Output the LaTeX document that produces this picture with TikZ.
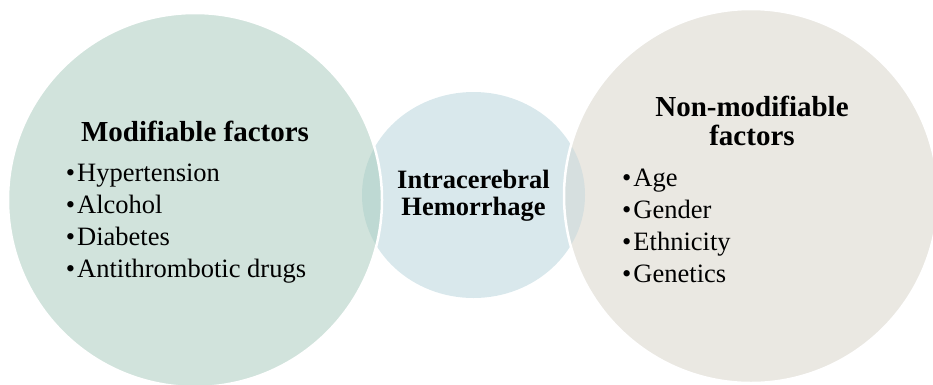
\documentclass[tikz,border=0pt]{standalone}
\usepackage{fontspec}
\setmainfont{Liberation Serif}
\usetikzlibrary{shapes.geometric}
\definecolor{modfill}{RGB}{209,227,220}
\definecolor{hemfill}{RGB}{217,232,236}
\definecolor{nonfill}{RGB}{234,232,226}
\definecolor{modover}{RGB}{190,217,211}
\definecolor{nonover}{RGB}{214,223,223}
\tikzset{
  venn/.style={circle, inner sep=0pt, minimum size=374pt, fill=#1},
  rim/.style={draw=white, line width=2.5pt},
  head/.style={font=\fontsize{29}{32}\selectfont\bfseries, inner sep=0pt, anchor=base},
  midhead/.style={font=\fontsize{26.5}{27}\selectfont\bfseries, inner sep=0pt, anchor=base},
  item/.style={font=\fontsize{26.5}{32}\selectfont, inner sep=0pt, anchor=base west},
}
\begin{document}
\begin{tikzpicture}[x=1pt, y=-1pt]
\useasboundingbox (0,0) rectangle (933,384);
% circles
\node[ellipse, inner sep=0pt, minimum width=223pt, minimum height=206pt, fill=hemfill] (hem) at (473.5,195) {};
\node[venn=modfill] (modc) at (195,200) {};
\node[venn=nonfill] (nonc) at (751,196) {};
\begin{scope}
\clip (modc.center) circle[radius=187pt];
\fill[modover] (hem.center) ellipse[x radius=111.5pt, y radius=103pt];
\end{scope}
\begin{scope}
\clip (nonc.center) circle[radius=187pt];
\fill[nonover] (hem.center) ellipse[x radius=111.5pt, y radius=103pt];
\end{scope}
\draw[rim] (modc.center) circle[radius=187pt];
\draw[rim] (nonc.center) circle[radius=187pt];
% left
\node[head] (modt) at (195,141) {Modifiable factors};
\node[item] (mod1) at (65.7,181) {\textbullet\hspace{2pt}Hypertension};
\node[item] (mod2) at (65.7,213) {\textbullet\hspace{2pt}Alcohol};
\node[item] (mod3) at (65.7,245) {\textbullet\hspace{2pt}Diabetes};
\node[item] (mod4) at (65.7,277) {\textbullet\hspace{2pt}Antithrombotic drugs};
% middle
\node[midhead] (hemt1) at (473.5,188) {Intracerebral};
\node[midhead] (hemt2) at (473.5,215) {Hemorrhage};
% right
\node[head] (nont1) at (752,116) {Non-modifiable};
\node[head] (nont2) at (752,145) {factors};
\node[item] (non1) at (622,186) {\textbullet\hspace{2pt}Age};
\node[item] (non2) at (622,218) {\textbullet\hspace{2pt}Gender};
\node[item] (non3) at (622,250) {\textbullet\hspace{2pt}Ethnicity};
\node[item] (non4) at (622,282) {\textbullet\hspace{2pt}Genetics};
\end{tikzpicture}
\end{document}
